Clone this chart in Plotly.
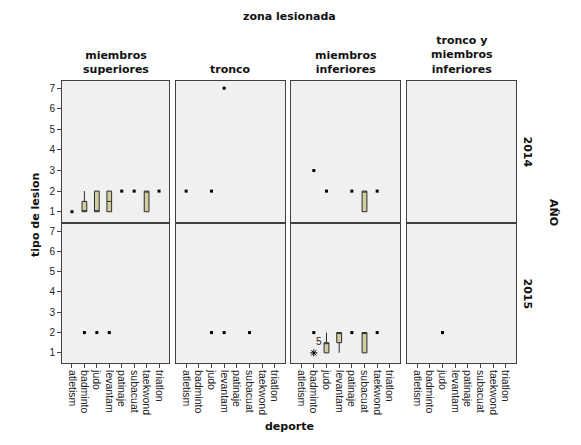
# BOXPLOT - TIPO DE LESION POR DEPORTE, ZONA LESIONADA Y AÑO
# ----------------------------------------------------------------------------------------------------
import plotly.graph_objects as go
from plotly.subplots import make_subplots

# DATOS
# ----------------------------------------------------------------------------------------------------
deportes = ['atletism', 'badminto', 'judo', 'levantam', 'patinaje', 'subacuat', 'taekwond', 'triatlon']
zonas = ['miembros<br>superiores', 'tronco', 'miembros<br>inferiores', 'tronco y<br>miembros<br>inferiores']
anios = ['2014', '2015']
y_ticks = [1, 2, 3, 4, 5, 6, 7]

# cajas (anio, zona index, deporte)
box_anio = ['2014', '2014', '2014', '2014', '2014', '2015', '2015', '2015']
box_zona = [0, 0, 0, 0, 2, 2, 2, 2]
box_deporte = ['badminto', 'judo', 'levantam', 'taekwond', 'subacuat', 'judo', 'levantam', 'subacuat']
box_min = [1, 1, 1, 1, 1, 1, 1, 1]
box_q1 = [1, 1, 1, 1, 1, 1, 1.5, 1]
box_med = [1, 1, 1.5, 2, 2, 1.5, 2, 2]
box_q3 = [1.5, 2, 2, 2, 2, 1.5, 2, 2]
box_max = [2, 2, 2, 2, 2, 2, 2, 2]

# casos unicos (un solo valor por grupo)
pt_anio = ['2014'] * 11 + ['2015'] * 10
pt_zona = [0, 0, 0, 0, 1, 1, 1, 2, 2, 2, 2,
           0, 0, 0, 1, 1, 1, 2, 2, 2, 3]
pt_deporte = ['atletism', 'patinaje', 'subacuat', 'triatlon',
              'atletism', 'judo', 'levantam',
              'badminto', 'judo', 'patinaje', 'taekwond',
              'badminto', 'judo', 'levantam',
              'judo', 'levantam', 'subacuat',
              'badminto', 'patinaje', 'taekwond',
              'judo']
pt_valor = [1, 2, 2, 2, 2, 2, 7, 3, 2, 2, 2,
            2, 2, 2, 2, 2, 2, 2, 2, 2, 2]

# valores extremos
ext_anio = ['2015']
ext_zona = [2]
ext_deporte = ['badminto']
ext_valor = [1]

# atipico etiquetado
out_label = '5'
out_deporte = 'judo'
out_valor = 1.55

# FIGURA
# ----------------------------------------------------------------------------------------------------
fig = make_subplots(rows=2, cols=4)

box_fill = '#D3CEA0'
edge = '#2b2b2b'

# empty trace in every panel so all axes are drawn
for r in range(2):
    for c in range(4):
        fig.add_trace(go.Scatter(x=[], y=[], mode='markers', showlegend=False, hoverinfo='skip'),
                      row=r + 1, col=c + 1)

for i in range(len(box_deporte)):
    fig.add_trace(go.Box(
        x=[box_deporte[i]], q1=[box_q1[i]], median=[box_med[i]], q3=[box_q3[i]],
        lowerfence=[box_min[i]], upperfence=[box_max[i]],
        width=0.38, fillcolor=box_fill, line=dict(color=edge, width=1),
        boxpoints=False, whiskerwidth=0, showlegend=False, hoverinfo='skip'
    ), row=anios.index(box_anio[i]) + 1, col=box_zona[i] + 1)

for i in range(len(pt_deporte)):
    fig.add_trace(go.Scatter(
        x=[pt_deporte[i]], y=[pt_valor[i]], mode='markers',
        marker=dict(symbol='square', size=3, color='black'),
        showlegend=False, hoverinfo='skip'
    ), row=anios.index(pt_anio[i]) + 1, col=pt_zona[i] + 1)

for i in range(len(ext_deporte)):
    fig.add_trace(go.Scatter(
        x=[ext_deporte[i]], y=[ext_valor[i]], mode='markers',
        marker=dict(symbol='asterisk-open', size=6, color='black', line=dict(width=1, color='black')),
        showlegend=False, hoverinfo='skip'
    ), row=anios.index(ext_anio[i]) + 1, col=ext_zona[i] + 1)

fig.add_annotation(x=out_deporte, y=out_valor, text=out_label, showarrow=False,
                   xref='x7', yref='y7', xshift=-7,
                   font=dict(family='Liberation Sans, Arial', size=10, color='#222'))

# LAYOUT
# ----------------------------------------------------------------------------------------------------
W, H = 581, 445
ml, mr, mt, mb = 62, 65, 81, 82
pw = W - ml - mr
ph = H - mt - mb

col_px = [(0, 107), (114, 223), (229, 338), (345, 454)]
row_px = [(0, 141), (143, 282)]

for r in range(2):
    for c in range(4):
        n = r * 4 + c + 1
        sx = '' if n == 1 else str(n)
        x0, x1 = col_px[c]
        y0, y1 = row_px[r]
        fig.layout['xaxis' + sx].update(
            domain=[x0 / pw, x1 / pw], type='category', categoryorder='array',
            categoryarray=deportes, range=[-0.8, 7.8], showgrid=False, zeroline=False,
            showline=True, mirror=True, linecolor='#404040', linewidth=1,
            tickmode='array', tickvals=deportes,
            ticks='outside' if r == 1 else '', ticklen=4, tickcolor='#404040',
            showticklabels=(r == 1), tickangle=90, automargin=False,
            tickfont=dict(family='Liberation Sans, Arial', size=10.5, color='#222')
        )
        fig.layout['yaxis' + sx].update(
            domain=[1 - y1 / ph, 1 - y0 / ph], range=[0.5, 7.35], showgrid=False, zeroline=False,
            showline=True, mirror=True, linecolor='#404040', linewidth=1,
            tickvals=y_ticks, ticks='outside' if c == 0 else '', ticklen=4, tickcolor='#404040',
            showticklabels=(c == 0), automargin=False,
            tickfont=dict(family='Liberation Sans, Arial', size=10, color='#222')
        )

bold = dict(family='DejaVu Sans', size=11, color='#111')


def px_label(text, xpx, ypx, angle=0, yanchor='middle'):
    # place a label at pixel position of the page
    fig.add_annotation(x=(xpx - ml) / pw, y=(H - mb - ypx) / ph, xref='paper', yref='paper',
                       text='<b>' + text + '</b>', showarrow=False, textangle=angle,
                       xanchor='center', yanchor=yanchor, font=bold)


for c in range(4):
    x0, x1 = col_px[c]
    px_label(zonas[c], ml + (x0 + x1) / 2, 78, yanchor='bottom')

for r in range(2):
    y0, y1 = row_px[r]
    px_label(anios[r], 527, mt + (y0 + y1) / 2, angle=90)

px_label('AÑO', 553, 212, angle=90)
px_label('tipo de lesion', 35, 215, angle=-90)
px_label('deporte', 289, 427)
px_label('zona lesionada', 289, 17)

fig.update_layout(
    width=W, height=H,
    margin=dict(l=ml, r=mr, t=mt, b=mb),
    paper_bgcolor='white', plot_bgcolor='#F0F0F0',
    showlegend=False
)

# page body has a default 8px margin; drop it so the figure sits at 0,0
fig.write_html('out.html', config={'displayModeBar': False},
               post_script="document.body.style.margin = '0';")
